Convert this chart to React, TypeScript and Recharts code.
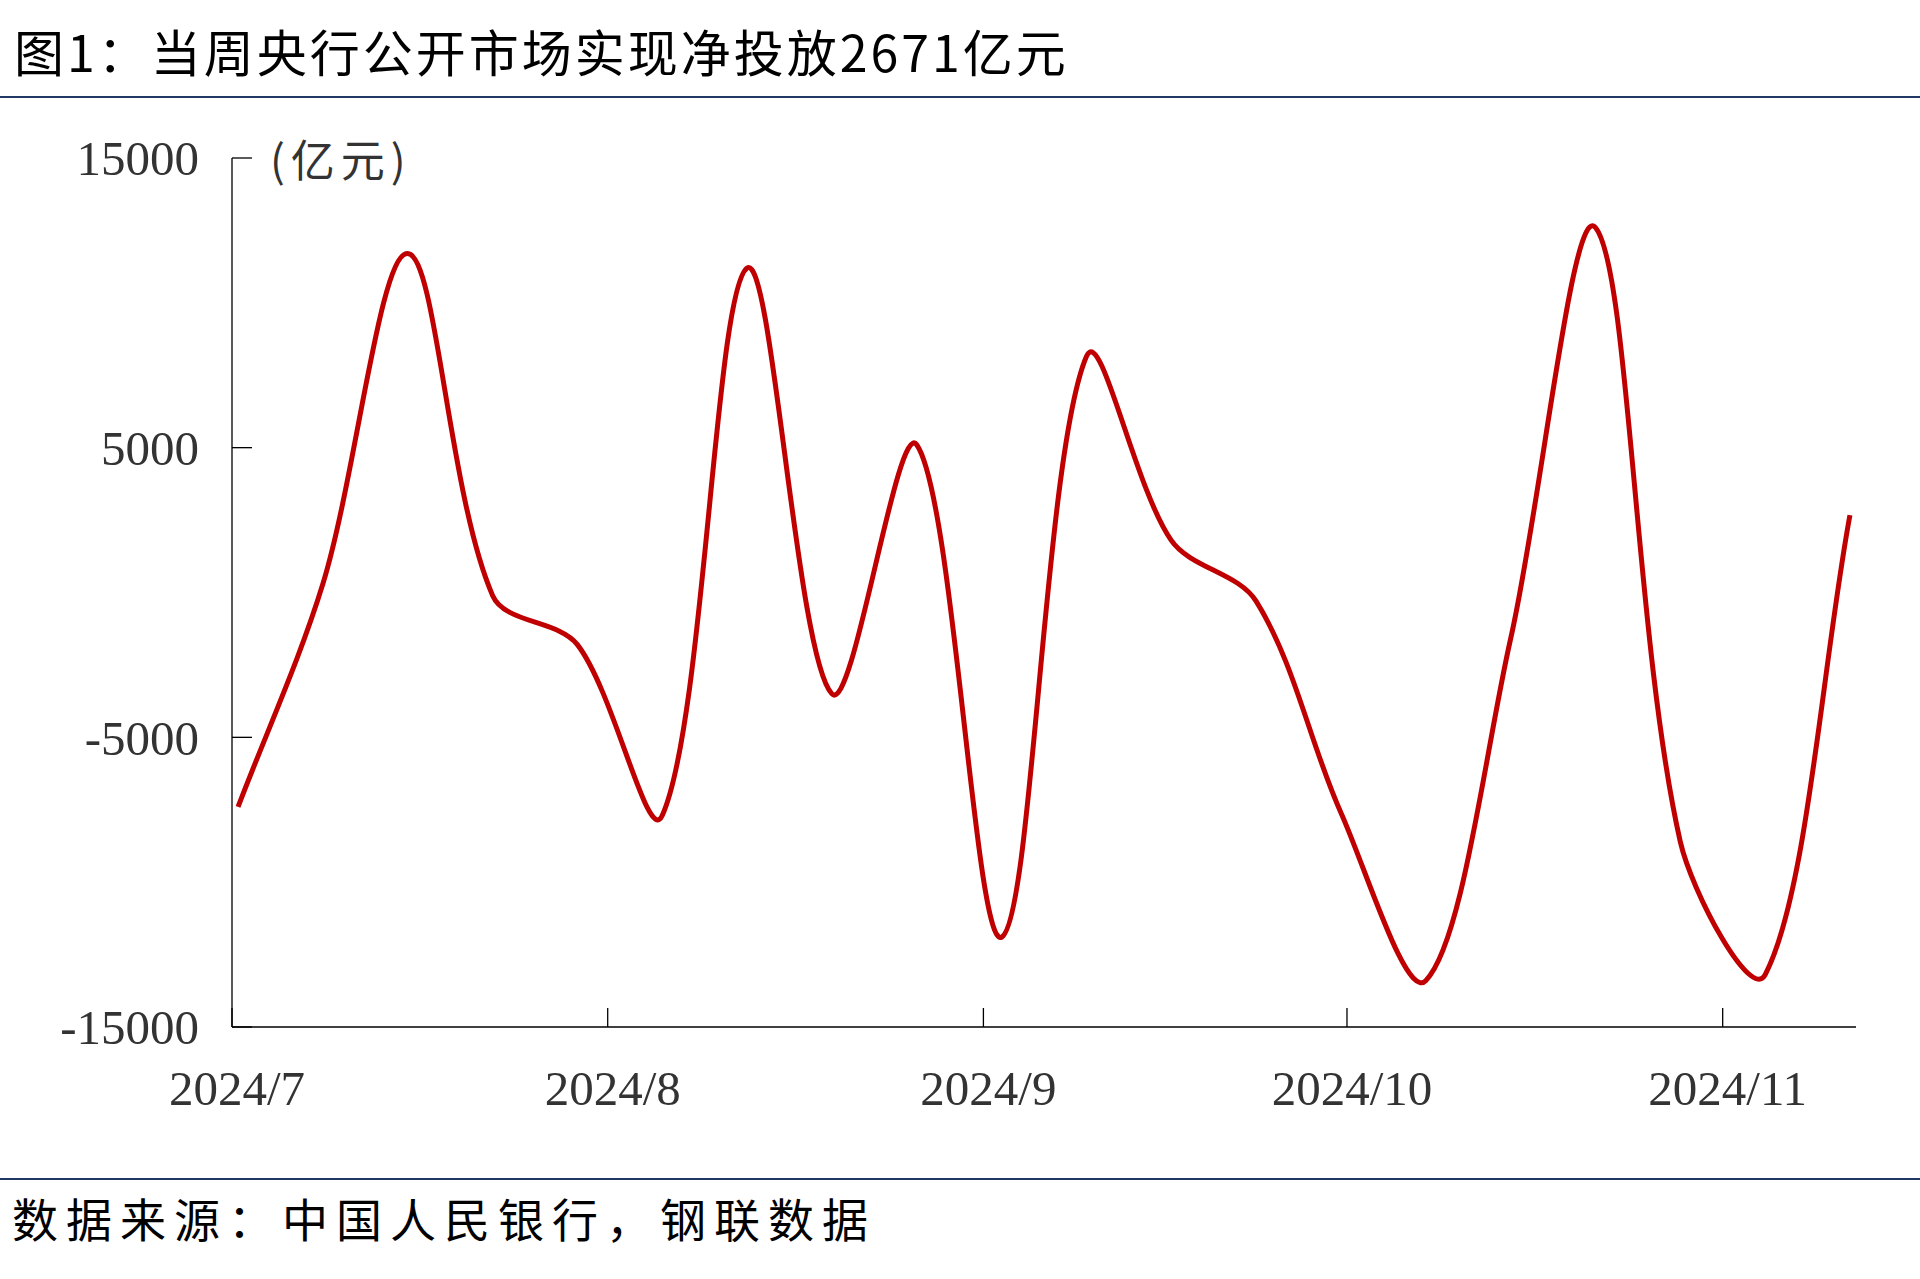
import { LineChart, Line, XAxis, YAxis } from "recharts"

document.body.style.margin = "0"

// weekly net injection of the PBoC open market operations (亿元)
const weekDates = [
  "2024-07-01", "2024-07-08", "2024-07-15", "2024-07-22", "2024-07-29",
  "2024-08-05", "2024-08-12", "2024-08-19", "2024-08-26", "2024-09-02",
  "2024-09-09", "2024-09-16", "2024-09-23", "2024-09-30", "2024-10-07",
  "2024-10-14", "2024-10-21", "2024-10-28", "2024-11-04", "2024-11-11",
]
const netInjection = [
  -7400, 300, 11700, -100, -1800,
  -7700, 11200, -3500, 5100, -11900,
  8150, 1800, -300, -7600, -13400,
  -1600, 12600, -8600, -13200, 2671,
]

const monthTicks = ["2024-07-01", "2024-08-01", "2024-09-01", "2024-10-01", "2024-11-01"]
const monthLabels = ["2024/7", "2024/8", "2024/9", "2024/10", "2024/11"]
const yTicks = [-15000, -5000, 5000, 15000]
const lastDay = "2024-11-12"

const START = Date.parse("2024-07-01")
const dayOf = (s: string) => (Date.parse(s) - START) / 86400000

// each date sits in the middle of its one-day slot, like a date axis in Excel
const data = weekDates.map((d, i) => ({ day: dayOf(d) + 0.5, value: netInjection[i] }))
const tickDays = monthTicks.map(dayOf)

// Excel-style smoothed line: tangent from the neighbours, scaled by segment lengths
function smoothCurve(context: any) {
  let pts: number[][] = []
  const dist = (a: number[], b: number[]) => Math.hypot(b[0] - a[0], b[1] - a[1])
  return {
    areaStart() {},
    areaEnd() {},
    lineStart() {
      pts = []
    },
    point(x: number, y: number) {
      pts.push([+x, +y])
    },
    lineEnd() {
      if (!pts.length) return
      context.moveTo(pts[0][0], pts[0][1])
      for (let i = 0; i < pts.length - 1; i++) {
        const p0 = pts[i - 1] || pts[i]
        const p1 = pts[i]
        const p2 = pts[i + 1]
        const p3 = pts[i + 2] || p2
        const d01 = dist(p0, p1)
        const d12 = dist(p1, p2)
        const d23 = dist(p2, p3)
        const f1 = d01 + d12 > 0 ? d12 / (d01 + d12) / 3 : 0
        const f2 = d12 + d23 > 0 ? d12 / (d12 + d23) / 3 : 0
        context.bezierCurveTo(
          p1[0] + (p2[0] - p0[0]) * f1,
          p1[1] + (p2[1] - p0[1]) * f1,
          p2[0] - (p3[0] - p1[0]) * f2,
          p2[1] - (p3[1] - p1[1]) * f2,
          p2[0],
          p2[1]
        )
      }
    },
  }
}

const serif = "'Liberation Serif', 'Times New Roman', serif"
const cjk = "'Noto Sans CJK SC', 'Noto Sans', sans-serif"

export default function App() {
  return (
    <div style={{ position: "relative", width: 1920, height: 1279, background: "#fff", overflow: "hidden" }}>
      {/* title */}
      <div
        style={{
          position: "absolute",
          left: 14,
          top: 25,
          fontFamily: cjk,
          fontSize: 50,
          lineHeight: 1,
          letterSpacing: 3,
          color: "#000",
          whiteSpace: "nowrap",
        }}
      >
        图1：当周央行公开市场实现净投放2671亿元
      </div>
      <div style={{ position: "absolute", left: 0, top: 96, width: 1920, height: 2, background: "#203864" }} />

      <div style={{ position: "absolute", left: 0, top: 0 }}>
        <LineChart
          width={1920}
          height={1279}
          data={data}
          margin={{ top: 158, right: 64, bottom: 192, left: 132 }}
        >
          <XAxis
            type="number"
            dataKey="day"
            domain={[0, dayOf(lastDay)]}
            ticks={tickDays}
            interval={0}
            height={60}
            tickFormatter={(v: number) => monthLabels[tickDays.indexOf(v)] ?? ""}
            axisLine={{ stroke: "#000", strokeWidth: 1.3 }}
            tickLine={{ stroke: "#000", strokeWidth: 1.3 }}
            tickSize={-19}
            tickMargin={62}
            tick={{ fill: "#333", fontSize: 49, fontFamily: serif, dx: 5 }}
          />
          <YAxis
            type="number"
            domain={[-15000, 15000]}
            ticks={yTicks}
            interval={0}
            width={100}
            axisLine={{ stroke: "#000", strokeWidth: 1.3 }}
            tickLine={{ stroke: "#000", strokeWidth: 1.3 }}
            tickSize={-20}
            tickMargin={53}
            tick={{ fill: "#333", fontSize: 49, fontFamily: serif }}
          />
          <Line
            type={smoothCurve as any}
            dataKey="value"
            stroke="#C00000"
            strokeWidth={5}
            dot={false}
            activeDot={false}
            isAnimationActive={false}
          />
        </LineChart>
      </div>

      {/* unit label */}
      <div
        style={{
          position: "absolute",
          left: 270,
          top: 136,
          fontFamily: cjk,
          fontSize: 44,
          lineHeight: 1,
          letterSpacing: 6,
          color: "#333",
          whiteSpace: "nowrap",
        }}
      >
        (亿元)
      </div>

      {/* source */}
      <div style={{ position: "absolute", left: 0, top: 1178, width: 1920, height: 2, background: "#203864" }} />
      <div
        style={{
          position: "absolute",
          left: 12,
          top: 1194,
          fontFamily: cjk,
          fontSize: 46,
          lineHeight: 1,
          letterSpacing: 8,
          color: "#000",
          whiteSpace: "nowrap",
        }}
      >
        数据来源：中国人民银行，钢联数据
      </div>
    </div>
  )
}
